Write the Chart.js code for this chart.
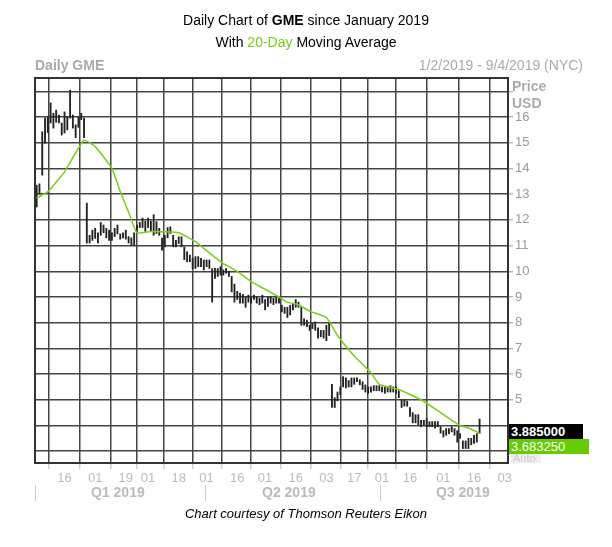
<!DOCTYPE html>
<html>
<head>
<meta charset="utf-8">
<script src="https://cdn.jsdelivr.net/npm/chart.js@4/dist/chart.umd.min.js"></script>
<style>
  body { margin: 0; background: #fff; font-family: Arial, "Liberation Sans", sans-serif; }
  #wrap { position: relative; width: 612px; height: 547px; }
  #c { position: absolute; left: 0; top: 0; }
  .t { position: absolute; white-space: nowrap; }
  .box { position: absolute; color: #fff; font-size: 13px; line-height: 15px; padding-left: 2px; }
  .q { position: absolute; top: 484px; font-size: 14px; font-weight: bold; color: #bbb; }
  .sep { position: absolute; top: 485px; width: 1px; height: 16px; background: #ccc; }
</style>
</head>
<body>
<div id="wrap">
  <canvas id="c" width="612" height="547"></canvas>
  <div class="t" style="left:0;width:612px;text-align:center;top:12px;font-size:14px;">Daily Chart of <b>GME</b> since January 2019</div>
  <div class="t" style="left:0;width:612px;text-align:center;top:34px;font-size:14px;">With <span style="color:#7ccc1a">20-Day</span> Moving Average</div>
  <div class="t" style="left:35px;top:57px;font-size:14px;font-weight:bold;color:#aaa;">Daily GME</div>
  <div class="t" style="right:29px;top:57px;font-size:14px;color:#aaa;">1/2/2019 - 9/4/2019 (NYC)</div>
  <div class="t" style="left:512px;top:78px;font-size:14px;font-weight:bold;color:#aaa;">Price</div>
  <div class="t" style="left:512px;top:95px;font-size:14px;font-weight:bold;color:#aaa;">USD</div>
  <div class="box" style="left:509px;top:424px;width:72px;background:#000;font-weight:bold;">3.885000</div>
  <div class="box" style="left:509px;top:439px;width:78px;background:#66cc00;">3.683250</div>
  <div class="box" style="left:511px;top:454px;width:28px;height:9px;background:#eee;color:#ccc;font-size:11px;line-height:9px;overflow:hidden;">Auto</div>
  <div class="sep" style="left:35px"></div>
  <div class="sep" style="left:205px"></div>
  <div class="sep" style="left:380px"></div>
  <div class="q" style="left:91px">Q1 2019</div>
  <div class="q" style="left:262px">Q2 2019</div>
  <div class="q" style="left:436px">Q3 2019</div>
  <div class="t" style="left:0;width:612px;text-align:center;top:506px;font-size:13px;font-style:italic;">Chart courtesy of Thomson Reuters Eikon</div>
</div>
<script>
// daily high / low ranges, one per trading day from 1/2/2019
const lows = [
  12.5,13.0,13.74,14.98,15.4,15.77,15.57,15.8,15.77,15.3,15.38,15.5,15.96,15.57,15.2,15.6,15.9,15.2,
  11.1,11.1,11.2,11.28,11.1,11.4,11.5,11.3,11.2,11.2,11.35,11.45,11.25,11.3,11.25,11.1,11.0,11.0,
  11.5,11.7,11.7,11.55,11.7,11.55,11.4,11.47,11.4,10.82,10.95,11.3,11.47,10.95,10.95,11.08,10.95,
  10.45,10.37,10.37,10.1,10.11,10.18,10.18,10.05,10.18,10.11,8.8,9.72,9.8,9.85,9.85,9.92,9.8,
  9.2,8.8,8.9,8.76,8.76,8.6,8.8,8.76,8.9,8.76,8.7,8.76,8.5,8.63,8.76,8.7,8.76,8.76,
  8.42,8.36,8.2,8.3,8.5,8.6,8.6,7.9,7.9,7.84,7.7,7.77,7.7,7.4,7.45,7.4,7.3,7.5,
  4.7,4.7,4.96,5.2,5.5,5.46,5.5,5.5,5.6,5.7,5.58,5.4,5.3,5.25,5.3,5.35,5.35,5.35,5.3,5.25,5.3,5.3,5.3,5.25,5.08,
  4.7,4.75,4.75,4.35,4.1,4.1,4.0,3.95,4.0,3.95,3.95,3.95,3.9,3.95,
  3.7,3.55,3.62,3.68,3.75,3.62,3.35,3.5,3.1,3.1,3.1,3.25,3.3,3.35,3.7
];
const highs = [
  13.35,13.4,15.43,15.96,16.0,16.55,16.15,16.27,16.08,15.77,16.2,16.0,17.05,16.08,15.7,16.0,16.15,15.96,
  12.65,11.4,11.6,11.67,11.5,11.9,11.8,11.67,11.6,11.5,11.67,11.8,11.45,11.5,11.6,11.35,11.3,11.5,
  11.8,11.9,12.07,11.95,12.07,11.95,12.2,11.93,11.67,11.29,11.4,11.7,11.73,11.4,11.2,11.34,11.34,
  10.95,10.76,10.63,10.5,10.57,10.57,10.5,10.44,10.44,10.44,10.1,10.11,10.11,10.18,10.05,10.11,10.0,
  9.8,9.5,9.22,9.15,9.1,9.0,9.07,9.0,9.07,9.0,8.95,9.07,8.9,9.0,9.0,8.95,9.0,8.95,
  8.68,8.6,8.6,8.68,8.75,8.9,8.8,8.6,8.15,8.1,7.9,7.97,8.03,7.8,7.7,7.7,7.9,8.0,
  5.6,5.08,5.3,5.5,5.9,5.85,5.75,5.85,5.85,5.85,5.78,5.7,5.58,5.5,5.5,5.55,5.55,5.55,5.5,5.5,5.5,5.55,5.5,5.5,5.35,
  5.0,5.0,4.95,4.7,4.5,4.42,4.42,4.2,4.2,4.27,4.15,4.15,4.15,4.15,
  3.95,3.8,3.88,3.88,3.95,3.88,3.8,3.68,3.4,3.4,3.5,3.5,3.62,3.68,4.25
];
// 20-day moving average: [trading day, value]
const maDays = [0,4,10,17,21,27,30,33,36,41,51,57,61,67,72,77,82,87,90,94,98,104,108,114,120,123,130,138,145,152,155,159];
const maVals = [12.85,13.1,13.87,15.1,14.85,14.0,13.1,12.3,11.5,11.55,11.5,11.15,10.8,10.3,10.0,9.6,9.3,9.0,8.8,8.7,8.45,8.2,7.5,6.7,6.05,5.6,5.4,5.0,4.5,4.0,3.9,3.7];
// x gridline positions (trading day index) and their labels
const tickDays = [10,21,32,40,51,61,72,82,93,104,114,124,134,146,157,168];
const tickLabels = ['16','01','19','01','18','01','16','01','16','03','17','01','16','01','16','03'];
const priceTicks = [3,4,5,6,7,8,9,10,11,12,13,14,15,16,17];

const bars = lows.map((lo, i) => ({ x: i, y: [lo, highs[i]] }));
const ma = maDays.map((d, i) => ({ x: d, y: maVals[i] }));

const frame = {
  id: 'frame',
  afterDraw(chart) {
    const { ctx, chartArea: a } = chart;
    ctx.save();
    ctx.strokeStyle = '#333';
    ctx.lineWidth = 2;
    ctx.strokeRect(a.left, a.top, a.right - a.left, a.bottom - a.top);
    ctx.restore();
  }
};

new Chart(document.getElementById('c'), {
  type: 'bar',
  data: {
    datasets: [
      { type: 'line', data: ma, borderColor: '#7ccc1a', borderWidth: 1.5, pointRadius: 0, tension: 0.15, order: 0 },
      { data: bars, backgroundColor: '#222', barThickness: 1.2, order: 1 }
    ]
  },
  options: {
    responsive: false,
    animation: false,
    layout: { padding: { left: 35, top: 78, right: 0, bottom: 0 } },
    plugins: { legend: { display: false }, tooltip: { enabled: false } },
    scales: {
      x: {
        type: 'linear', min: -0.6, max: 169.2, offset: false,
        afterFit: s => { s.height = 84; },
        afterBuildTicks: s => { s.ticks = tickDays.map(v => ({ value: v })); },
        ticks: {
          autoSkip: false, maxRotation: 0, padding: 2, color: '#bbb',
          font: { size: 13, family: 'Arial' },
          callback: (v) => tickLabels[tickDays.indexOf(v)]
        },
        grid: { color: '#444', lineWidth: 1.5, tickColor: '#ccc', tickLength: 6 },
        border: { display: false }
      },
      y: {
        type: 'linear', position: 'right', min: 2.54, max: 17.52,
        afterFit: s => { s.width = 104; },
        afterBuildTicks: s => { s.ticks = priceTicks.map(v => ({ value: v })); },
        ticks: {
          padding: 2, color: '#999', font: { size: 13, family: 'Arial' },
          callback: v => (v >= 5 && v <= 16 ? String(v) : '')
        },
        grid: { color: '#444', lineWidth: 1.5, tickColor: '#bbb', tickLength: 5 },
        border: { display: false }
      }
    }
  },
  plugins: [frame]
});
</script>
</body>
</html>
